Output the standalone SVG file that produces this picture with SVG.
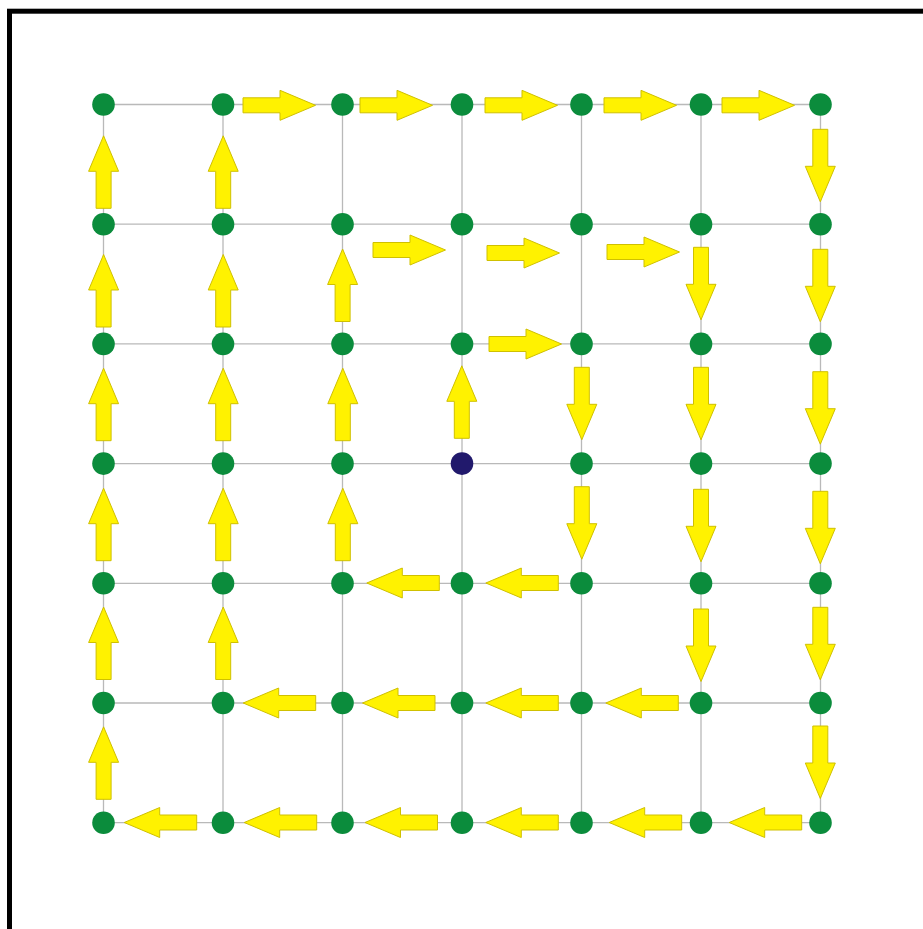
<svg xmlns="http://www.w3.org/2000/svg" xmlns:xlink="http://www.w3.org/1999/xlink" width="923" height="929" viewBox="0 0 923 929">
<style>
.grid line{stroke:#b9b9b9;stroke-width:1.3}
.node{fill:#0b8c3c}
.start{fill:#21196c}
.arrow{fill:#fff200;stroke:#cfc000;stroke-width:1}
</style>
<defs>
<path id="arr" class="arrow" d="M0,-7.5 H37 V-15 L72.5,0 L37,15 V7.5 H0 Z"/>
</defs>
<rect width="923" height="929" fill="#ffffff"/>
<rect x="9.5" y="11.2" width="1000" height="1000" fill="none" stroke="#000" stroke-width="5"/>
<g id="connectors">
<g class="grid">
<line x1="103.5" y1="104.5" x2="820.5" y2="104.5"/>
<line x1="103.5" y1="224.2" x2="820.5" y2="224.2"/>
<line x1="103.5" y1="343.9" x2="820.5" y2="343.9"/>
<line x1="103.5" y1="463.6" x2="820.5" y2="463.6"/>
<line x1="103.5" y1="583.3" x2="820.5" y2="583.3"/>
<line x1="103.5" y1="703" x2="820.5" y2="703"/>
<line x1="103.5" y1="822.7" x2="820.5" y2="822.7"/>
<line x1="103.5" y1="104.5" x2="103.5" y2="822.7"/>
<line x1="223" y1="104.5" x2="223" y2="822.7"/>
<line x1="342.5" y1="104.5" x2="342.5" y2="822.7"/>
<line x1="462" y1="104.5" x2="462" y2="822.7"/>
<line x1="581.5" y1="104.5" x2="581.5" y2="822.7"/>
<line x1="701" y1="104.5" x2="701" y2="822.7"/>
<line x1="820.5" y1="104.5" x2="820.5" y2="822.7"/>
</g>
<g id="arrows">
<use xlink:href="#arr" transform="translate(243,105.3)"/>
<use xlink:href="#arr" transform="translate(360,105.3)"/>
<use xlink:href="#arr" transform="translate(485,105.3)"/>
<use xlink:href="#arr" transform="translate(604,105.3)"/>
<use xlink:href="#arr" transform="translate(722,105.3)"/>
<use xlink:href="#arr" transform="translate(373,250)"/>
<use xlink:href="#arr" transform="translate(487,253)"/>
<use xlink:href="#arr" transform="translate(607,252)"/>
<use xlink:href="#arr" transform="translate(489,344)"/>

<use xlink:href="#arr" transform="translate(103.6,208.3) rotate(-90)"/>
<use xlink:href="#arr" transform="translate(223.2,208.3) rotate(-90)"/>
<use xlink:href="#arr" transform="translate(103.6,327) rotate(-90)"/>
<use xlink:href="#arr" transform="translate(223.2,327) rotate(-90)"/>
<use xlink:href="#arr" transform="translate(342.6,321.5) rotate(-90)"/>
<use xlink:href="#arr" transform="translate(103.6,440.7) rotate(-90)"/>
<use xlink:href="#arr" transform="translate(223.2,440.7) rotate(-90)"/>
<use xlink:href="#arr" transform="translate(342.8,440.7) rotate(-90)"/>
<use xlink:href="#arr" transform="translate(461.8,438.3) rotate(-90)"/>
<use xlink:href="#arr" transform="translate(103.6,560.7) rotate(-90)"/>
<use xlink:href="#arr" transform="translate(223.2,560.7) rotate(-90)"/>
<use xlink:href="#arr" transform="translate(342.8,560.7) rotate(-90)"/>
<use xlink:href="#arr" transform="translate(103.6,679.5) rotate(-90)"/>
<use xlink:href="#arr" transform="translate(223.2,679.5) rotate(-90)"/>
<use xlink:href="#arr" transform="translate(103.6,799.3) rotate(-90)"/>

<use xlink:href="#arr" transform="translate(820.3,129.3) rotate(90)"/>
<use xlink:href="#arr" transform="translate(701,247.3) rotate(90)"/>
<use xlink:href="#arr" transform="translate(820.3,249.3) rotate(90)"/>
<use xlink:href="#arr" transform="translate(581.8,367.3) rotate(90)"/>
<use xlink:href="#arr" transform="translate(701,367.3) rotate(90)"/>
<use xlink:href="#arr" transform="translate(820.3,371.7) rotate(90)"/>
<use xlink:href="#arr" transform="translate(581.8,486.7) rotate(90)"/>
<use xlink:href="#arr" transform="translate(701,489.3) rotate(90)"/>
<use xlink:href="#arr" transform="translate(820.3,491.3) rotate(90)"/>
<use xlink:href="#arr" transform="translate(701,609) rotate(90)"/>
<use xlink:href="#arr" transform="translate(820.3,607.3) rotate(90)"/>
<use xlink:href="#arr" transform="translate(820.3,726) rotate(90)"/>

<use xlink:href="#arr" transform="translate(439.3,583) rotate(180)"/>
<use xlink:href="#arr" transform="translate(558.3,583) rotate(180)"/>
<use xlink:href="#arr" transform="translate(315.7,703) rotate(180)"/>
<use xlink:href="#arr" transform="translate(435,703) rotate(180)"/>
<use xlink:href="#arr" transform="translate(558.3,703) rotate(180)"/>
<use xlink:href="#arr" transform="translate(678.3,703) rotate(180)"/>
<use xlink:href="#arr" transform="translate(196.7,822.5) rotate(180)"/>
<use xlink:href="#arr" transform="translate(316.7,822.5) rotate(180)"/>
<use xlink:href="#arr" transform="translate(437.5,822.5) rotate(180)"/>
<use xlink:href="#arr" transform="translate(558.3,822.5) rotate(180)"/>
<use xlink:href="#arr" transform="translate(681.7,822.5) rotate(180)"/>
<use xlink:href="#arr" transform="translate(801.7,822.5) rotate(180)"/>
</g>
</g>
<g id="nodes">
<g id="n-r0-c0"><circle class="node" cx="103.5" cy="104.5" r="11.3"/></g>
<g id="n-r0-c1"><circle class="node" cx="223" cy="104.5" r="11.3"/></g>
<g id="n-r0-c2"><circle class="node" cx="342.5" cy="104.5" r="11.3"/></g>
<g id="n-r0-c3"><circle class="node" cx="462" cy="104.5" r="11.3"/></g>
<g id="n-r0-c4"><circle class="node" cx="581.5" cy="104.5" r="11.3"/></g>
<g id="n-r0-c5"><circle class="node" cx="701" cy="104.5" r="11.3"/></g>
<g id="n-r0-c6"><circle class="node" cx="820.5" cy="104.5" r="11.3"/></g>
<g id="n-r1-c0"><circle class="node" cx="103.5" cy="224.2" r="11.3"/></g>
<g id="n-r1-c1"><circle class="node" cx="223" cy="224.2" r="11.3"/></g>
<g id="n-r1-c2"><circle class="node" cx="342.5" cy="224.2" r="11.3"/></g>
<g id="n-r1-c3"><circle class="node" cx="462" cy="224.2" r="11.3"/></g>
<g id="n-r1-c4"><circle class="node" cx="581.5" cy="224.2" r="11.3"/></g>
<g id="n-r1-c5"><circle class="node" cx="701" cy="224.2" r="11.3"/></g>
<g id="n-r1-c6"><circle class="node" cx="820.5" cy="224.2" r="11.3"/></g>
<g id="n-r2-c0"><circle class="node" cx="103.5" cy="343.9" r="11.3"/></g>
<g id="n-r2-c1"><circle class="node" cx="223" cy="343.9" r="11.3"/></g>
<g id="n-r2-c2"><circle class="node" cx="342.5" cy="343.9" r="11.3"/></g>
<g id="n-r2-c3"><circle class="node" cx="462" cy="343.9" r="11.3"/></g>
<g id="n-r2-c4"><circle class="node" cx="581.5" cy="343.9" r="11.3"/></g>
<g id="n-r2-c5"><circle class="node" cx="701" cy="343.9" r="11.3"/></g>
<g id="n-r2-c6"><circle class="node" cx="820.5" cy="343.9" r="11.3"/></g>
<g id="n-r3-c0"><circle class="node" cx="103.5" cy="463.6" r="11.3"/></g>
<g id="n-r3-c1"><circle class="node" cx="223" cy="463.6" r="11.3"/></g>
<g id="n-r3-c2"><circle class="node" cx="342.5" cy="463.6" r="11.3"/></g>
<g id="n-r3-c3"><circle class="start" cx="462" cy="463.6" r="11.3"/></g>
<g id="n-r3-c4"><circle class="node" cx="581.5" cy="463.6" r="11.3"/></g>
<g id="n-r3-c5"><circle class="node" cx="701" cy="463.6" r="11.3"/></g>
<g id="n-r3-c6"><circle class="node" cx="820.5" cy="463.6" r="11.3"/></g>
<g id="n-r4-c0"><circle class="node" cx="103.5" cy="583.3" r="11.3"/></g>
<g id="n-r4-c1"><circle class="node" cx="223" cy="583.3" r="11.3"/></g>
<g id="n-r4-c2"><circle class="node" cx="342.5" cy="583.3" r="11.3"/></g>
<g id="n-r4-c3"><circle class="node" cx="462" cy="583.3" r="11.3"/></g>
<g id="n-r4-c4"><circle class="node" cx="581.5" cy="583.3" r="11.3"/></g>
<g id="n-r4-c5"><circle class="node" cx="701" cy="583.3" r="11.3"/></g>
<g id="n-r4-c6"><circle class="node" cx="820.5" cy="583.3" r="11.3"/></g>
<g id="n-r5-c0"><circle class="node" cx="103.5" cy="703" r="11.3"/></g>
<g id="n-r5-c1"><circle class="node" cx="223" cy="703" r="11.3"/></g>
<g id="n-r5-c2"><circle class="node" cx="342.5" cy="703" r="11.3"/></g>
<g id="n-r5-c3"><circle class="node" cx="462" cy="703" r="11.3"/></g>
<g id="n-r5-c4"><circle class="node" cx="581.5" cy="703" r="11.3"/></g>
<g id="n-r5-c5"><circle class="node" cx="701" cy="703" r="11.3"/></g>
<g id="n-r5-c6"><circle class="node" cx="820.5" cy="703" r="11.3"/></g>
<g id="n-r6-c0"><circle class="node" cx="103.5" cy="822.7" r="11.3"/></g>
<g id="n-r6-c1"><circle class="node" cx="223" cy="822.7" r="11.3"/></g>
<g id="n-r6-c2"><circle class="node" cx="342.5" cy="822.7" r="11.3"/></g>
<g id="n-r6-c3"><circle class="node" cx="462" cy="822.7" r="11.3"/></g>
<g id="n-r6-c4"><circle class="node" cx="581.5" cy="822.7" r="11.3"/></g>
<g id="n-r6-c5"><circle class="node" cx="701" cy="822.7" r="11.3"/></g>
<g id="n-r6-c6"><circle class="node" cx="820.5" cy="822.7" r="11.3"/></g>
</g>
</svg>
